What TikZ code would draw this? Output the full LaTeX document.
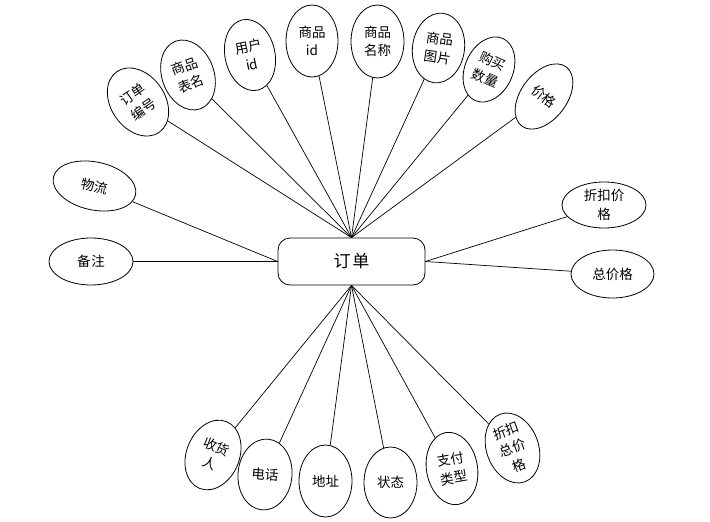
\documentclass[tikz,border=0pt]{standalone}
\usepackage{fontspec}
\setmainfont{Noto Sans CJK SC}
\usetikzlibrary{shapes.geometric}
\begin{document}
\begin{tikzpicture}[x=1pt,y=-1pt,
  attr/.style={draw,ellipse,inner sep=0pt,line width=0.8pt,align=center,
    font=\fontsize{13.5}{18.5}\selectfont},
  ent/.style={draw,rectangle,rounded corners=12pt,line width=0.8pt,
    minimum width=147pt,minimum height=47pt,font=\fontsize{17}{19}\selectfont},
  link/.style={line width=0.7pt}]
\useasboundingbox (0,0) rectangle (710,522);
\node[ent] (c) at (351.5,261.5) {订\kern2pt 单};
% top
\node[attr,minimum width=54pt,minimum height=74pt,rotate=35] (a1) at (138,102) {订单\\编号};
\node[attr,minimum width=52pt,minimum height=72pt,rotate=20] (a2) at (188,75) {商品\\表名};
\node[attr,minimum width=50pt,minimum height=72pt,rotate=12] (a3) at (250,55) {用户\\id};
\node[attr,minimum width=52pt,minimum height=72pt] (a4) at (312,41) {商品\\id};
\node[attr,minimum width=53pt,minimum height=73pt] (a5) at (377.5,41.5) {商品\\名称};
\node[attr,minimum width=52pt,minimum height=70pt,rotate=-8] (a6) at (438.5,48) {商品\\图片};
\node[attr,minimum width=48pt,minimum height=68pt,rotate=-24] (a7) at (489,69.5) {购买\\数量};
\node[attr,minimum width=46pt,minimum height=74pt,rotate=-37] (a8) at (544,96.5) {价格};
% sides
\node[attr,minimum width=84pt,minimum height=48pt,rotate=-12] (l1) at (94.5,186) {物流};
\node[attr,minimum width=84pt,minimum height=47pt] (l2) at (91,261.5) {备\kern1pt 注};
\node[attr,minimum width=84pt,minimum height=46pt] (r1) at (604,205) {折扣价\\格};
\node[attr,minimum width=83pt,minimum height=48pt] (r2) at (612.5,274) {总价格};
% bottom
\node[attr,minimum width=53pt,minimum height=72pt,rotate=-22] (b1) at (213,455) {收货\\人};
\node[attr,minimum width=54pt,minimum height=71pt,rotate=-5] (b2) at (265,474.5) {电话};
\node[attr,minimum width=53pt,minimum height=72pt] (b3) at (325.5,481) {地址};
\node[attr,minimum width=53pt,minimum height=71pt] (b4) at (390.5,482.5) {状态};
\node[attr,minimum width=51pt,minimum height=73pt,rotate=10] (b5) at (452,468.5) {支付\\类型};
\node[attr,minimum width=52pt,minimum height=72pt,rotate=20] (b6) at (512.5,448) {折扣\\总价\\格};
% links
\foreach \n in {a1,a2,a3,a4,a5,a6,a7,a8} \draw[link] (c.north) -- (\n);
\foreach \n in {b1,b2,b3,b4,b5,b6} \draw[link] (c.south) -- (\n);
\draw[link] (c.west) -- (l1);
\draw[link] (c.west) -- (l2);
\draw[link] (c.east) -- (r1);
\draw[link] (c.east) -- (r2);
\end{tikzpicture}
\end{document}
